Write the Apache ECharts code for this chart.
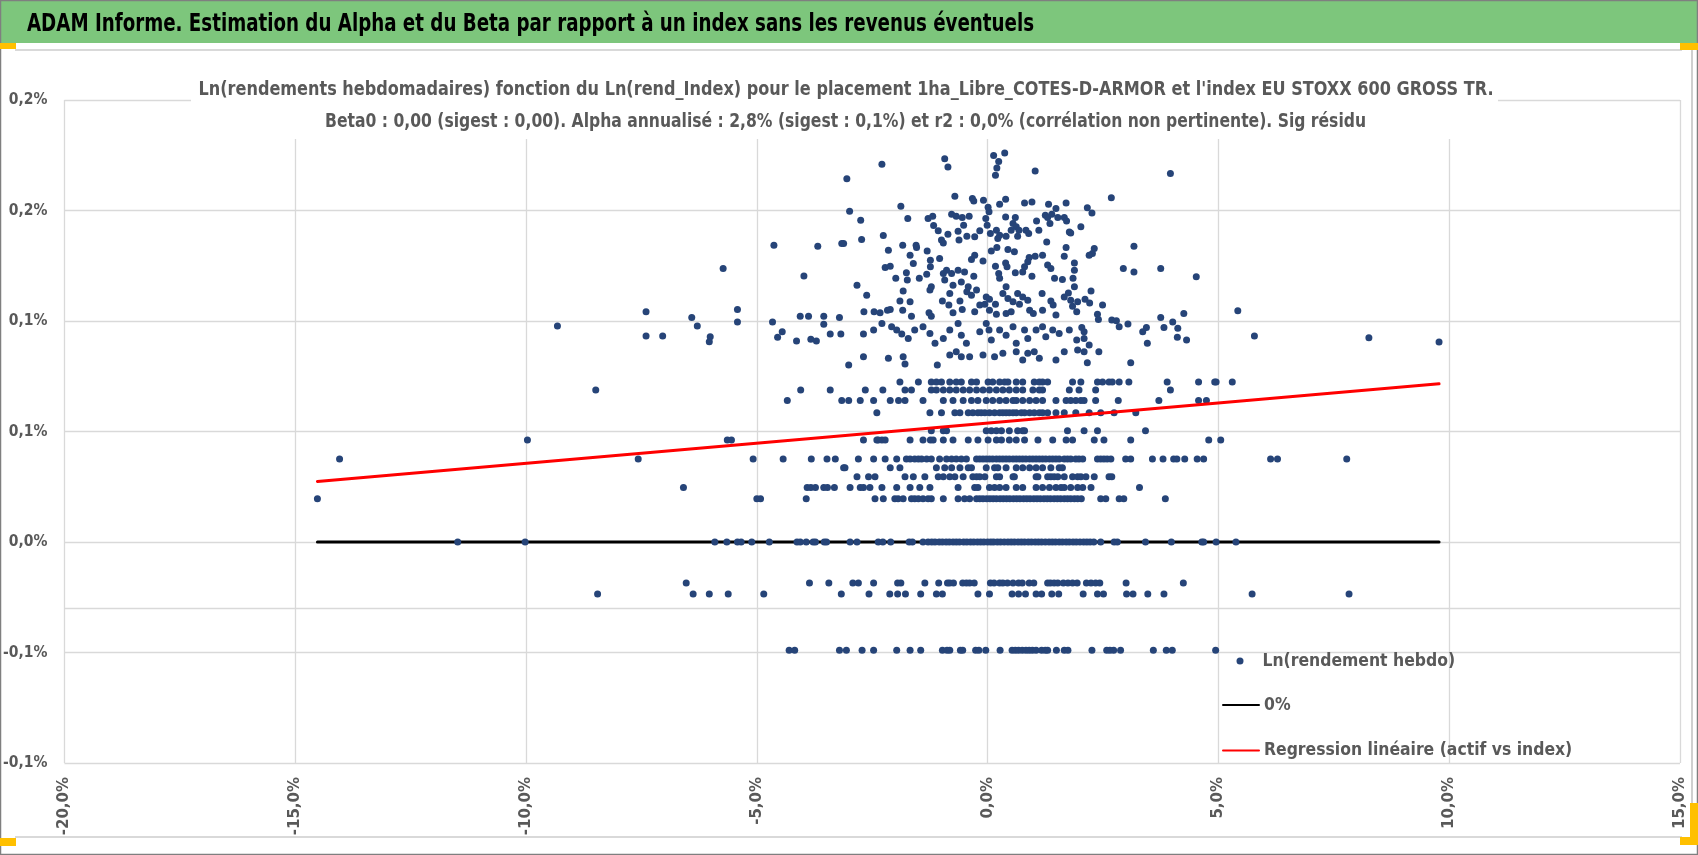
<!DOCTYPE html>
<html><head><meta charset="utf-8">
<script src="https://cdn.jsdelivr.net/npm/echarts@6/dist/echarts.min.js"></script>
<style>html,body{margin:0;padding:0;background:#fff}#c{width:1698px;height:855px}</style>
</head><body><div id="c"></div>
<script>
// ---------- DATA (values in %) ----------
const xTicks = [-20, -15, -10, -5, 0, 5, 10, 15];
const yTicks = [-0.1, -0.05, 0, 0.05, 0.1, 0.15, 0.2];

// quantised rows of weekly returns: y level and the x positions seen on that row
const rowLevels = [-0.049, -0.0235, -0.0185, 0, 0.0196, 0.0247, 0.0295, 0.0336, 0.0376, 0.0462, 0.0503, 0.0585, 0.064, 0.0688, 0.0724];
const xRowM049 = [-4.30,-4.18,-3.21,-3.06,-2.72,-2.47,-1.97,-1.68,-1.45,-0.98,-0.88,-0.82,-0.59,-0.54,-0.26,-0.19,-0.04,0.27,0.53,0.60,0.67,0.75,0.83,0.90,0.97,1.05,1.17,1.25,1.30,1.49,1.66,1.74,2.26,2.58,2.65,2.73,2.88,3.59,3.87,4.00,4.94];
const xRowM0235 = [-8.45,-6.38,-6.03,-5.62,-4.85,-3.17,-2.57,-2.12,-1.95,-1.78,-1.45,-1.11,-0.98,-0.21,0.04,0.53,0.67,0.82,1.05,1.17,1.39,1.54,2.07,2.38,2.51,3.01,3.15,3.47,3.82,5.73,7.83];
const xRowM0185 = [-6.53,-3.86,-3.44,-2.92,-2.80,-2.47,-1.95,-1.88,-1.36,-1.06,-0.87,-0.82,-0.74,-0.54,-0.46,-0.39,-0.29,0.06,0.14,0.26,0.33,0.43,0.55,0.67,0.75,0.90,1.00,1.30,1.36,1.44,1.52,1.64,1.74,1.84,1.94,2.14,2.24,2.34,2.43,3.00,4.24];
const xRow0 = [-11.48,-10.02,-5.91,-5.65,-5.42,-5.34,-5.11,-4.73,-4.13,-4.06,-3.93,-3.78,-3.73,-3.54,-3.49,-2.98,-2.83,-2.37,-2.27,-2.10,-1.70,-1.63,-1.40,
  -1.29,-1.21,-1.14,-1.05,-0.98,-0.90,-0.83,-0.75,-0.68,-0.61,-0.52,-0.45,-0.37,-0.30,-0.22,-0.15,-0.08,0.00,0.07,0.13,0.21,0.28,0.36,0.44,0.51,0.58,0.66,0.73,0.80,0.88,0.95,1.03,1.10,1.17,1.25,1.33,1.40,1.47,1.55,1.62,1.70,1.77,1.85,1.92,2.00,2.08,2.15,2.22,2.30,
  2.45,2.74,2.81,3.42,3.98,4.64,4.68,4.95,5.38];
const xRow0196 = [-14.52,-5.00,-4.92,-3.93,-2.44,-2.26,-2.01,-1.94,-1.83,-1.65,-1.58,-1.50,-1.40,-1.29,-1.22,-0.96,-0.64,-0.50,-0.39,-0.24,
  -0.17,-0.10,-0.02,0.05,0.12,0.19,0.27,0.34,0.41,0.48,0.56,0.63,0.70,0.78,0.85,0.92,1.00,1.07,1.14,1.22,1.29,1.36,1.44,1.51,1.58,1.66,1.73,1.80,1.88,1.95,2.03,
  2.45,2.56,2.85,2.95,3.85];
const xRow0247 = [-6.59,-3.91,-3.83,-3.73,-3.55,-3.47,-3.32,-2.98,-2.76,-2.69,-2.55,-2.29,-1.97,-1.68,-1.47,-1.25,-0.64,-0.28,-0.21,0.04,0.15,0.26,0.40,0.62,0.76,1.05,1.19,1.34,1.48,1.59,1.66,1.80,1.95,2.06,2.24,3.29];
const xRow0295 = [-2.83,-2.58,-2.44,-1.79,-1.61,-1.36,-1.07,-0.96,-0.82,-0.71,-0.53,-0.32,-0.24,-0.17,-0.06,0.19,0.26,0.55,0.58,1.05,1.09,1.30,1.37,1.44,1.52,1.66,1.84,1.95,2.02,2.13,2.31,2.63,2.69];
const xRow0336 = [-3.12,-3.09,-2.11,-1.90,-1.11,-0.93,-0.78,-0.60,-0.42,-0.35,-0.03,0.15,0.22,0.40,0.62,0.76,0.91,1.05,1.19,1.37,1.55,1.62];
const xRow0376 = [-14.04,-7.57,-5.08,-4.43,-3.82,-3.48,-3.30,-2.80,-2.47,-2.22,-1.97,-1.76,-1.68,-1.58,-1.50,-1.43,-1.32,-1.22,-1.04,-0.89,-0.78,-0.68,-0.57,-0.46,-0.24,-0.17,-0.10,-0.03,0.04,0.11,0.19,0.26,0.33,0.40,0.47,0.55,0.62,0.69,0.76,0.83,0.91,0.98,1.05,1.12,1.19,1.26,1.34,1.41,1.48,1.55,1.66,1.73,1.80,1.91,1.98,2.06,2.38,2.45,2.52,2.59,2.67,2.99,3.10,3.57,3.80,4.03,4.10,4.27,4.54,4.68,6.13,6.28,7.78];
const xRow0462 = [-9.97,-5.64,-5.55,-2.69,-2.40,-2.37,-2.29,-2.22,-1.68,-1.40,-1.24,-1.18,-0.96,-0.75,-0.42,-0.21,0.01,0.19,0.30,0.47,0.62,0.80,1.09,1.41,1.70,1.84,2.31,2.52,3.10,4.79,5.05];
const xRow0503 = [-1.22,-0.96,-0.89,-0.03,0.08,0.19,0.30,0.47,0.65,0.76,0.80,1.73,2.09,2.38,3.42];
const xRow0585 = [-2.40,-1.25,-1.00,-0.71,-0.60,-0.42,-0.32,-0.21,-0.14,-0.06,0.04,0.15,0.26,0.33,0.40,0.47,0.55,0.62,0.73,0.80,0.91,1.01,1.12,1.19,1.30,1.48,1.66,1.91,2.20,2.45,2.74,3.21];
const xRow0640 = [-4.34,-3.16,-3.01,-2.76,-2.47,-2.11,-1.93,-1.79,-1.40,-0.96,-0.75,-0.53,-0.35,-0.21,-0.03,0.11,0.26,0.40,0.55,0.62,0.76,0.91,1.05,1.19,1.48,1.70,1.80,1.91,2.02,2.09,2.34,2.83,3.71,4.57,4.74];
const xRow0688 = [-8.49,-4.05,-3.41,-2.65,-2.27,-1.79,-1.65,-1.22,-1.11,-0.96,-0.82,-0.68,-0.53,-0.39,-0.24,-0.10,0.04,0.19,0.33,0.47,0.62,0.76,0.98,1.12,1.19,1.77,1.98,2.34,3.96];
const xRow0724 = [-1.90,-1.50,-1.22,-1.11,-1.00,-0.82,-0.68,-0.57,-0.35,-0.24,0.01,0.11,0.26,0.37,0.44,0.62,0.76,1.01,1.12,1.19,1.30,1.84,2.02,2.38,2.49,2.63,2.70,2.85,3.06,3.89,4.57,4.92,4.95,5.30];

// scattered points above the rows: [x %, y %]
const freeLeft = [[-9.32,0.0977],[-4.63,0.1343],[-3.68,0.1338],[-3.16,0.1351],[-5.73,0.1238],[-3.98,0.1204],[-7.40,0.1042],[-7.40,0.0932],[-7.04,0.0932],[-6.41,0.1016],[-6.29,0.0977],[-6.01,0.0929],[-6.03,0.0906],[-5.42,0.1052],[-5.42,0.0996],[-4.66,0.0996],[-4.45,0.0951],[-4.55,0.0926],[-4.06,0.1022],[-3.88,0.1022],[-3.55,0.1022],[-3.55,0.0985],[-3.21,0.1016],[-4.14,0.0909],[-3.83,0.0917],[-3.71,0.0909],[-3.41,0.0941],[-3.18,0.0941]];
const freeCenter = [[-3.01,0.0801],[-2.69,0.0838],[-2.15,0.0831],[-1.83,0.0838],[-1.79,0.0805],[-1.09,0.0801],[-0.82,0.0846],[-0.68,0.0861],[-0.57,0.0838],[-0.39,0.0838],[-0.10,0.0846],[0.15,0.0838],[0.33,0.0854],[0.62,0.0861],[0.76,0.0823],[0.87,0.0854],[1.01,0.0861],[1.12,0.0831],[1.48,0.0823],
  [-3.05,0.1644],[-2.29,0.1709],[-0.93,0.1734],[-0.86,0.1697],[0.13,0.1749],[0.37,0.176],[0.24,0.1722],[0.20,0.1692],[0.17,0.1659],[1.03,0.1679],
  [-0.71,0.1564],[-0.33,0.1554],[-0.30,0.1543],[-0.09,0.1546],[0.39,0.1551],[0.26,0.1528],[0.80,0.1534],[0.96,0.1539],[1.32,0.1528],[-1.88,0.1519],[-2.99,0.1497],
  [-2.75,0.1456],[-2.73,0.1369],[-1.73,0.1464],[-2.26,0.1387],[-1.29,0.1464],[-1.19,0.1474],[-1.17,0.1432],[-1.07,0.1408],[-0.78,0.1483],[-0.68,0.1474],[-0.55,0.1468],[-0.40,0.1474],[-0.52,0.1433],[-0.64,0.1406],[-0.62,0.1366],[-0.86,0.1393],[-1.00,0.1366],[-0.96,0.1353],[-0.17,0.1408],[-0.28,0.1381],[-0.45,0.1384],[-0.04,0.1464],[0.03,0.1494],[0.01,0.1515],[-0.01,0.1433],[0.06,0.1396],[0.19,0.1411],[0.26,0.1388],[0.22,0.1373],[0.39,0.1471],[0.40,0.1384],[0.51,0.1411],[0.60,0.1468],[0.55,0.1441],[0.62,0.1426],[0.68,0.1411],[0.65,0.1384],[0.83,0.1411],[0.89,0.1396],[1.06,0.1453],[1.11,0.1411],[1.25,0.1478],[1.30,0.1468],[1.35,0.1441],[1.39,0.1483],[1.48,0.1509],[1.52,0.1468],[1.28,0.1358],
  [-3.12,0.1351],[-2.15,0.1320],[-1.84,0.1343],[-1.55,0.1343],[-1.54,0.1333],[-1.68,0.1298],[-1.61,0.1260],[-2.22,0.1242],[-2.11,0.1248],[-1.99,0.1193],[-1.76,0.1218],[-1.74,0.1185],[-1.48,0.1193],[-1.32,0.1212],[-1.31,0.1317],[-1.24,0.1275],[-1.24,0.1245],[-1.04,0.1283],[-0.96,0.1215],[-0.89,0.1230],[-0.78,0.1215],[-0.64,0.1230],[-0.50,0.1222],[-0.93,0.1185],[-0.75,0.1162],[-0.57,0.1177],[-0.35,0.1278],[-0.28,0.1298],[-0.10,0.1272],[-0.30,0.1203],[0.08,0.1317],[0.20,0.1333],[0.44,0.1324],[0.58,0.1313],[0.90,0.1287],[1.03,0.1293],[1.19,0.1298],[0.87,0.1268],[0.80,0.1245],[0.17,0.1248],[0.39,0.1263],[0.42,0.1245],[0.24,0.1215],[0.26,0.1193],[0.60,0.1218],[0.76,0.1222],[0.96,0.1203],[1.30,0.1253],[1.37,0.1238],[1.45,0.1193],
  [-2.83,0.1162],[-2.62,0.1117],[-2.68,0.1042],[-2.46,0.1042],[-2.33,0.1037],[-2.17,0.1049],[-2.11,0.1052],[-1.90,0.1091],[-1.83,0.1136],[-1.68,0.1087],[-1.84,0.1049],[-1.65,0.1022],[-1.25,0.1140],[-1.22,0.1155],[-1.27,0.1037],[-1.22,0.1022],[-0.98,0.1091],[-0.82,0.1125],[-0.84,0.1072],[-0.75,0.1037],[-0.60,0.1091],[-0.55,0.1052],[-0.45,0.1132],[-0.42,0.1155],[-0.35,0.1117],[-0.24,0.1140],[-0.28,0.1042],[-0.17,0.1072],[-0.03,0.1109],[0.04,0.1098],[-0.06,0.1076],[0.04,0.1049],[0.17,0.1076],[0.19,0.1031],[0.33,0.1125],[0.40,0.1155],[0.44,0.1102],[0.55,0.1087],[0.65,0.1125],[0.69,0.1076],[0.76,0.1109],[0.87,0.1094],[0.91,0.1049],[0.99,0.1034],[1.18,0.1125],[1.19,0.1049],[1.37,0.1091],[1.42,0.1072],[1.48,0.1027],[0.40,0.1034],[0.51,0.1042],
  [-2.69,0.0941],[-2.47,0.0959],[-2.29,0.0989],[-2.08,0.0974],[-1.97,0.0959],[-1.86,0.0941],[-1.72,0.0921],[-1.58,0.0959],[-1.40,0.0974],[-1.25,0.0944],[-1.14,0.0899],[-0.96,0.0921],[-0.82,0.0959],[-0.64,0.0989],[-0.57,0.0936],[-0.46,0.0899],[-0.17,0.0951],[-0.03,0.0989],[0.03,0.0959],[0.08,0.0914],[0.26,0.0959],[0.40,0.0936],[0.55,0.0974],[0.62,0.0899],[0.80,0.0959],[0.87,0.0921],[1.05,0.0959],[1.19,0.0974],[1.26,0.0929],[1.41,0.0959],[1.55,0.0944]];
const freeRight = [[3.96,0.1667],[2.68,0.1558],[1.70,0.1534],[2.16,0.1513],[2.26,0.1489],[1.66,0.1468],[1.71,0.1453],[1.77,0.1403],[1.80,0.1398],[2.02,0.1426],[1.70,0.1333],[1.66,0.1293],[2.31,0.1328],[2.27,0.1305],[2.20,0.1298],[3.17,0.1338],[1.88,0.1263],[1.88,0.1230],[2.94,0.1238],[3.17,0.1222],[3.75,0.1238],[4.52,0.1200],[1.62,0.1188],[1.85,0.1193],[1.88,0.1155],[2.24,0.1136],[1.75,0.1127],[1.66,0.1109],[1.80,0.1094],[1.95,0.1087],[2.11,0.1098],[2.21,0.1082],[2.49,0.1072],[1.84,0.1067],[1.93,0.1042],[2.38,0.1031],[2.40,0.1007],[2.69,0.1004],[2.79,0.1001],[2.85,0.0974],[3.04,0.0986],[3.75,0.1016],[4.25,0.1034],[4.01,0.0996],[4.12,0.0967],[3.82,0.0971],[3.44,0.0971],[3.36,0.0951],[4.31,0.0914],[4.11,0.0926],[5.42,0.1046],[5.78,0.0932],[1.77,0.0959],[2.04,0.0971],[2.09,0.0951],[2.09,0.0921],[1.93,0.0914],[2.20,0.0891],[3.46,0.0899],
  [1.66,0.0861],[1.95,0.0869],[2.09,0.0861],[2.41,0.0861],[2.16,0.0811],[3.10,0.0811],[8.26,0.0924],[9.78,0.0905]];

// reference lines
const zeroLineX = [-14.52, 9.78];
const zeroLineY = [0, 0];
const regLineX = [-14.52, 9.78];
const regLineY = [0.0274, 0.0716];
const extraGridY = [-0.0335];

// texts
const headerText = 'ADAM Informe. Estimation du Alpha et du Beta par rapport à un index sans les revenus éventuels';
const titleLine1 = "Ln(rendements hebdomadaires) fonction du Ln(rend_Index) pour le placement 1ha_Libre_COTES-D-ARMOR et l'index EU STOXX 600 GROSS TR.";
const titleLine2 = 'Beta0 : 0,00 (sigest : 0,00). Alpha annualisé : 2,8% (sigest : 0,1%) et r2 : 0,0% (corrélation non pertinente). Sig résidu';
const legendNames = ['Ln(rendement hebdo)', '0%', 'Regression linéaire (actif vs index)'];

// ---------- BUILD ----------
const rowXs = [xRowM049, xRowM0235, xRowM0185, xRow0, xRow0196, xRow0247, xRow0295, xRow0336, xRow0376, xRow0462, xRow0503, xRow0585, xRow0640, xRow0688, xRow0724];
const scatterData = [];
rowXs.forEach((xs, i) => xs.forEach(x => scatterData.push([x, rowLevels[i]])));
freeLeft.concat(freeCenter, freeRight).forEach(p => scatterData.push(p));
const zeroData = zeroLineX.map((x, i) => [x, zeroLineY[i]]);
const regData = regLineX.map((x, i) => [x, regLineY[i]]);

const NARROW = "'Liberation Sans Narrow','DejaVu Sans Condensed','Arial Narrow',sans-serif";
const GRAY = '#595959';
function pct(v) {
  const r = Math.sign(v) * Math.round(Math.abs(v) * 10 + 1e-9) / 10;
  return (r === 0 ? 0 : r).toFixed(1).replace('.', ',') + '%';
}
const mctx = document.createElement('canvas').getContext('2d');
function fit(text, size, target) {
  mctx.font = 'bold ' + size + 'px ' + NARROW;
  return target / mctx.measureText(text).width;
}
const sHeader = fit(headerText, 24, 1007);
const sT1 = fit(titleLine1, 20, 1295);
const sT2 = fit(titleLine2, 20, 1041);

const chart = echarts.init(document.getElementById('c'));
chart.setOption({
  animation: false,
  backgroundColor: '#fff',
  legend: [
    { data: [legendNames[0]], left: 1236.5, top: 652.5, padding: 0, itemWidth: 7, itemHeight: 7, icon: 'circle',
      selectedMode: false,
      textStyle: { fontFamily: NARROW, fontSize: 17.4, fontWeight: 'bold', color: GRAY, padding: [0, 0, 0, 14] } },
    { data: [legendNames[1], legendNames[2]], orient: 'vertical', left: 1222, top: 696.5, padding: 0,
      itemWidth: 36, itemHeight: 20, itemGap: 28.5, selectedMode: false,
      itemStyle: { opacity: 0 },
      textStyle: { fontFamily: NARROW, fontSize: 17.4, fontWeight: 'bold', color: GRAY } }
  ],
  grid: { left: 57.5, right: 18, top: 100, bottom: 92, containLabel: false },
  xAxis: {
    type: 'value', min: xTicks[0], max: xTicks[xTicks.length - 1], interval: 5,
    axisLine: { show: false }, axisTick: { show: false },
    splitLine: { show: true, lineStyle: { color: '#D9D9D9', width: 1.3 } },
    axisLabel: { rotate: 90, margin: 14, formatter: pct, color: GRAY,
      fontFamily: 'DejaVu Sans', fontWeight: 'bold', fontSize: 15 }
  },
  yAxis: {
    type: 'value', min: yTicks[0], max: yTicks[yTicks.length - 1], interval: 0.05,
    axisLine: { show: false }, axisTick: { show: false },
    splitLine: { show: true, lineStyle: { color: '#D9D9D9', width: 1.3 } },
    axisLabel: { margin: 17, formatter: pct, color: GRAY, fontFamily: NARROW, fontWeight: 'bold', fontSize: 15.5 }
  },
  series: [
    { name: legendNames[1], type: 'line', data: zeroData, symbol: 'none', z: 1, silent: true,
      lineStyle: { color: '#000', width: 3, cap: 'round' }, itemStyle: { color: '#000' } },
    { name: legendNames[0], type: 'scatter', data: scatterData, symbolSize: 7, z: 2,
      itemStyle: { color: '#264478', opacity: 1 },
      markLine: { silent: true, symbol: ['none', 'none'], label: { show: false },
        lineStyle: { color: '#D9D9D9', width: 1.3, type: 'solid' },
        data: extraGridY.map(v => ({ yAxis: v })) } },
    { name: legendNames[2], type: 'line', data: regData, symbol: 'none', z: 3, silent: true,
      lineStyle: { color: '#FF0000', width: 3, cap: 'round' }, itemStyle: { color: '#FF0000' } }
  ],
  graphic: [
    { type: 'rect', z: 0, shape: { x: 0, y: 0, width: 1698, height: 43 }, style: { fill: '#7DC67C' } },
    { type: 'text', z: 10, x: 27, y: 25, scaleX: sHeader,
      style: { text: headerText, fontFamily: NARROW, fontSize: 24, fontWeight: 'bold', fill: '#000', align: 'left', verticalAlign: 'middle' } },
    { type: 'rect', z: 5, shape: { x: 191, y: 66, width: 1307, height: 73 }, style: { fill: '#fff' } },
    { type: 'text', z: 10, x: 846, y: 90, scaleX: sT1,
      style: { text: titleLine1, fontFamily: NARROW, fontSize: 20, fontWeight: 'bold', fill: GRAY, align: 'center', verticalAlign: 'middle' } },
    { type: 'text', z: 10, x: 845.5, y: 122, scaleX: sT2,
      style: { text: titleLine2, fontFamily: NARROW, fontSize: 20, fontWeight: 'bold', fill: GRAY, align: 'center', verticalAlign: 'middle' } },
    { type: 'line', shape: { x1: 15, y1: 50, x2: 1682, y2: 50 }, style: { stroke: '#D9D9D9', lineWidth: 2 } },
    { type: 'line', shape: { x1: 15, y1: 837, x2: 1682, y2: 837 }, style: { stroke: '#D9D9D9', lineWidth: 2 } },
    { type: 'line', shape: { x1: 1692, y1: 50, x2: 1692, y2: 837 }, style: { stroke: '#BFBFBF', lineWidth: 1.5 } },
    { type: 'rect', shape: { x: 0.5, y: 0.5, width: 1697, height: 854 }, style: { fill: 'none', stroke: '#7F7F7F', lineWidth: 1.5 } },
    { type: 'rect', shape: { x: 0, y: 43, width: 16, height: 6 }, style: { fill: '#FFC000' } },
    { type: 'rect', shape: { x: 1680, y: 43, width: 18, height: 7 }, style: { fill: '#FFC000' } },
    { type: 'rect', shape: { x: 0, y: 838, width: 16, height: 8 }, style: { fill: '#FFC000' } },
    { type: 'rect', shape: { x: 1690, y: 803, width: 8, height: 42 }, style: { fill: '#FFC000' } },
    { type: 'rect', shape: { x: 1680, y: 837, width: 18, height: 8 }, style: { fill: '#FFC000' } }
  ]
});
</script>
</body></html>
